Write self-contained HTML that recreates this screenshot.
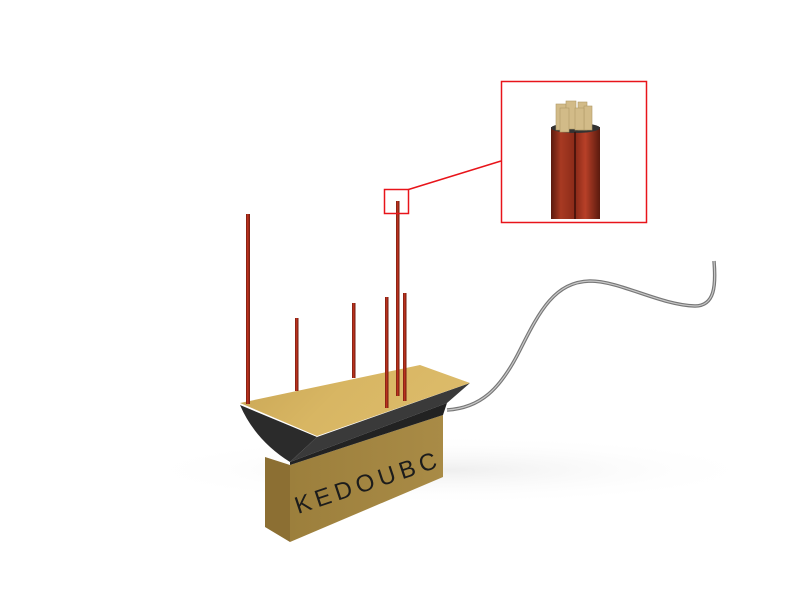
<!DOCTYPE html>
<html><head><style>body{margin:0;background:#fff}svg{display:block}</style></head>
<body>
<svg width="800" height="600" viewBox="0 0 800 600" xmlns="http://www.w3.org/2000/svg">
<defs>
<linearGradient id="top" x1="0" y1="0" x2="1" y2="0.3"><stop offset="0" stop-color="#c9a655"/><stop offset="0.5" stop-color="#d8b663"/><stop offset="1" stop-color="#dcbb6a"/></linearGradient>
<linearGradient id="front" x1="0" y1="0" x2="1" y2="0"><stop offset="0" stop-color="#9c7f3c"/><stop offset="1" stop-color="#a98b46"/></linearGradient>
<linearGradient id="rod" x1="0" y1="0" x2="1" y2="0"><stop offset="0" stop-color="#6e1a10"/><stop offset="0.4" stop-color="#c5351f"/><stop offset="1" stop-color="#6a1a10"/></linearGradient>
<linearGradient id="cab" x1="0" y1="0" x2="1" y2="0"><stop offset="0" stop-color="#5a1a0e"/><stop offset="0.2" stop-color="#a83a22"/><stop offset="0.5" stop-color="#8a2a18"/><stop offset="0.7" stop-color="#b84028"/><stop offset="1" stop-color="#5a1a0e"/></linearGradient>
<radialGradient id="sh" cx="0.5" cy="0.5" r="0.5"><stop offset="0" stop-color="#e4e4e4" stop-opacity="0.6"/><stop offset="1" stop-color="#fff" stop-opacity="0"/></radialGradient>
</defs>
<ellipse cx="450" cy="470" rx="320" ry="35" fill="url(#sh)"/>
<path d="M447,410 C480,408 500,390 520,350 C540,310 555,282 590,281 C620,281 660,305 695,306 C715,306 716,285 714,261" fill="none" stroke="#777" stroke-width="3.5"/>
<path d="M447,410 C480,408 500,390 520,350 C540,310 555,282 590,281 C620,281 660,305 695,306 C715,306 716,285 714,261" fill="none" stroke="#c8c8c8" stroke-width="1.2"/>
<polygon points="265,457 290,465 290,542 265,527" fill="#8c6f33"/>
<polygon points="290,465 443,415 443,477 290,542" fill="url(#front)"/>
<text transform="translate(298,514) rotate(-18.4)" font-family="Liberation Sans, sans-serif" font-size="24" fill="#1c1c1c" textLength="148" lengthAdjust="spacing">KEDOUBC</text>
<path d="M240,405 Q255,440 290,462 L317,437 Z" fill="#2b2b2b"/>
<polygon points="317,437 470,383 447,403 290,462" fill="#3a3a3a"/>
<polygon points="290,462 447,403 443,415 290,465" fill="#222"/>
<polygon points="240,403 420,365 470,383 317,436" fill="url(#top)"/>
<g fill="url(#rod)">
<rect x="246" y="214" width="4" height="190"/>
<rect x="295" y="318" width="3.5" height="73"/>
<rect x="352" y="303" width="3.5" height="75"/>
<rect x="385" y="297" width="3.5" height="111"/>
<rect x="396" y="201" width="3.5" height="195"/>
<rect x="403" y="293" width="3.5" height="108"/>
</g>
<rect x="384.5" y="189.5" width="24" height="24" fill="none" stroke="#e8141a" stroke-width="1.5"/>
<line x1="408.5" y1="189.5" x2="501" y2="161" stroke="#e8141a" stroke-width="1.5"/>
<rect x="501.5" y="81.5" width="145" height="141" fill="#fff" stroke="#e8141a" stroke-width="1.5"/>
<rect x="551" y="127" width="49" height="92" fill="url(#cab)"/>
<ellipse cx="575.5" cy="128" rx="24.5" ry="5" fill="#333"/>
<g fill="#d2bb88" stroke="#b09a66" stroke-width="0.6">
<rect x="556" y="104" width="10" height="26"/><rect x="566" y="101" width="10" height="28"/><rect x="578" y="102" width="9" height="28"/><rect x="584" y="106" width="8" height="24"/><rect x="560" y="108" width="9" height="24"/><rect x="575" y="108" width="9" height="22"/>
</g>
<line x1="575" y1="132" x2="575" y2="219" stroke="#3a0e08" stroke-width="1.5"/>
</svg>
</body></html>
